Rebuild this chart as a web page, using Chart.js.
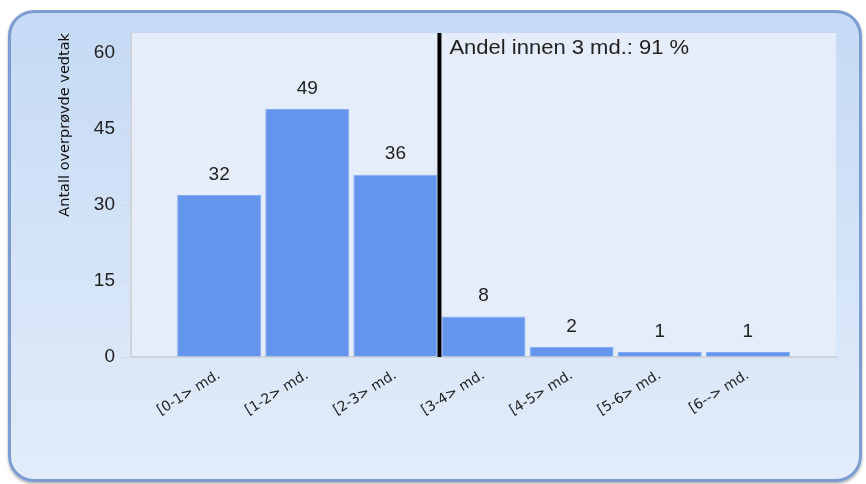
<!DOCTYPE html>
<html>
<head>
<meta charset="utf-8">
<script src="https://cdn.jsdelivr.net/npm/chart.js"></script>
<style>
  html, body { margin: 0; padding: 0; background: #fff; }
  #panel {
    position: absolute; left: 8px; top: 10px; width: 854px; height: 472px;
    box-sizing: border-box; border: 3px solid #7d9dd2; border-radius: 26px;
    background: linear-gradient(#c5daf5, #e2ecfa);
    box-shadow: 0 2px 3px rgba(0, 0, 0, 0.3);
  }
  #wrap { position: absolute; left: 0; top: 0; width: 866px; height: 484px; }
</style>
</head>
<body>
<div id="panel"></div>
<div id="wrap"><canvas id="myChart"></canvas></div>
<script>
const categories = ["[0-1> md.", "[1-2> md.", "[2-3> md.", "[3-4> md.", "[4-5> md.", "[5-6> md.", "[6--> md."];
const counts = [32, 49, 36, 8, 2, 1, 1];
const yTickValues = [0, 15, 30, 45, 60];
const cutoffAt = 2.5;
const cutoffText = "Andel innen 3 md.: 91 %";

const numFont = "'Liberation Sans', Arial, sans-serif";
const smallFont = "'DejaVu Sans', Verdana, sans-serif";

const plotBackground = {
  id: "plotBackground",
  beforeDraw(chart) {
    const { ctx, chartArea: a } = chart;
    ctx.save();
    ctx.fillStyle = "#e5ecfa";
    ctx.fillRect(a.left, a.top, a.right - a.left, a.bottom - a.top);
    ctx.restore();
  },
};

const valueLabels = {
  id: "valueLabels",
  afterDatasetsDraw(chart) {
    const { ctx } = chart;
    const meta = chart.getDatasetMeta(0);
    ctx.save();
    ctx.fillStyle = "#222";
    ctx.font = "19px " + numFont;
    ctx.textAlign = "center";
    ctx.textBaseline = "bottom";
    meta.data.forEach((bar, i) => {
      ctx.fillText(String(counts[i]), bar.x, bar.y - 11);
    });
    ctx.restore();
  },
};

const cutoffLine = {
  id: "cutoffLine",
  afterDatasetsDraw(chart) {
    const { ctx, chartArea: a } = chart;
    const x = chart.scales.x.getPixelForValue(cutoffAt);
    ctx.save();
    ctx.strokeStyle = "#000";
    ctx.lineWidth = 4;
    ctx.beginPath();
    ctx.moveTo(x, a.top);
    ctx.lineTo(x, a.bottom);
    ctx.stroke();
    // reference text is a bit wider than Arial, stretch it slightly
    ctx.translate(x + 10, a.top + 15);
    ctx.scale(1.1, 1);
    ctx.fillStyle = "#222";
    ctx.font = "20px " + numFont;
    ctx.textAlign = "left";
    ctx.textBaseline = "middle";
    ctx.fillText(cutoffText, 0, 0);
    ctx.restore();
  },
};

const ctx = document.getElementById("myChart");

new Chart(ctx, {
  type: "bar",
  data: {
    datasets: [
      {
        data: counts.map((v, i) => ({ x: i, y: v })),
        backgroundColor: "#6495ed",
        borderColor: "#86abf2",
        borderWidth: 1,
        barPercentage: 0.953,
        categoryPercentage: 1,
      },
    ],
  },
  options: {
    responsive: true,
    maintainAspectRatio: false,
    animation: false,
    layout: { padding: { left: 0, top: 33, right: 30, bottom: 0 } },
    plugins: {
      legend: { display: false },
      tooltip: { enabled: false },
    },
    scales: {
      x: {
        type: "linear",
        offset: false,
        min: -1,
        max: 7,
        afterBuildTicks(scale) {
          scale.ticks = categories.map((c, i) => ({ value: i }));
        },
        afterFit(scale) {
          scale.height = 127;
        },
        grid: { display: false, drawTicks: false },
        border: { display: true, color: "#cfd3da", width: 2 },
        ticks: {
          autoSkip: false,
          minRotation: 32,
          maxRotation: 32,
          padding: 10,
          color: "#222",
          font: { family: smallFont, size: 14 },
          callback: (v) => categories[v],
        },
      },
      y: {
        min: 0,
        max: 64,
        afterBuildTicks(scale) {
          scale.ticks = yTickValues.map((v) => ({ value: v }));
        },
        afterFit(scale) {
          scale.width = 131;
        },
        grid: { drawOnChartArea: false, tickLength: 9, color: "#d4d8de" },
        border: { display: true, color: "#cfd3da", width: 2 },
        ticks: {
          padding: 7,
          color: "#222",
          font: { family: numFont, size: 19 },
        },
        title: {
          display: true,
          text: "Antall overprøvde vedtak",
          align: "end",
          color: "#111",
          padding: { top: 57, bottom: 0 },
          font: { family: smallFont, size: 14.5 },
        },
      },
    },
  },
  plugins: [plotBackground, valueLabels, cutoffLine],
});
</script>
</body>
</html>
